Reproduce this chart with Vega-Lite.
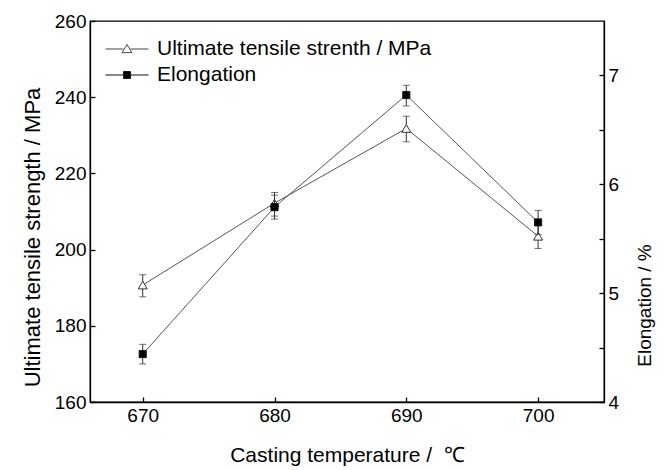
{
  "$schema": "https://vega.github.io/schema/vega-lite/v6.json",
  "width": 514,
  "height": 381,
  "autosize": {"type": "none"},
  "padding": {"left": 90, "top": 21, "right": 62, "bottom": 68},
  "background": "white",
  "config": {
    "font": "Liberation Sans",
    "view": {"stroke": "black", "strokeWidth": 1.3},
    "axis": {
      "grid": false,
      "labelFont": "Liberation Sans",
      "titleFont": "Liberation Sans",
      "labelFontSize": 19,
      "titleFontSize": 21,
      "titleFontWeight": "normal",
      "labelColor": "black",
      "titleColor": "black",
      "domainColor": "black",
      "domainWidth": 1.3,
      "tickColor": "black",
      "tickWidth": 1.3,
      "tickSize": -5,
      "labelPadding": 9
    },
    "legend": {
      "labelFont": "Liberation Sans",
      "labelFontSize": 21,
      "labelColor": "black",
      "labelLimit": 0
    }
  },
  "data": {
    "values": [
      {"temp": 670, "series": "Ultimate tensile strenth / MPa", "value": 190.7, "lo": 187.6, "hi": 193.4},
      {"temp": 680, "series": "Ultimate tensile strenth / MPa", "value": 212.2, "lo": 208.8, "hi": 215.0},
      {"temp": 690, "series": "Ultimate tensile strenth / MPa", "value": 231.8, "lo": 228.3, "hi": 235.0},
      {"temp": 700, "series": "Ultimate tensile strenth / MPa", "value": 203.5, "lo": 200.3, "hi": 206.7},
      {"temp": 670, "series": "Elongation", "value": 4.44, "lo": 4.35, "hi": 4.53},
      {"temp": 680, "series": "Elongation", "value": 5.79, "lo": 5.68, "hi": 5.90},
      {"temp": 690, "series": "Elongation", "value": 6.82, "lo": 6.72, "hi": 6.91},
      {"temp": 700, "series": "Elongation", "value": 5.65, "lo": 5.54, "hi": 5.76}
    ]
  },
  "encoding": {
    "x": {
      "field": "temp",
      "type": "quantitative",
      "scale": {"domain": [666, 705], "nice": false, "zero": false},
      "axis": {"values": [670, 680, 690, 700], "title": "Casting temperature /\u00a0\u00a0℃", "titlePadding": 19, "titleFontSize": 21}
    }
  },
  "layer": [
    {
      "transform": [{"filter": "datum.series === 'Ultimate tensile strenth / MPa'"}],
      "layer": [
        {
          "mark": {"type": "line", "color": "#555", "strokeWidth": 1},
          "encoding": {
            "y": {
              "field": "value",
              "type": "quantitative",
              "scale": {"domain": [160, 260], "nice": false, "zero": false},
              "axis": {
                "orient": "left",
                "title": "Ultimate tensile strength / MPa",
                "titleFontSize": 22,
                "titlePadding": 10,
                "titleY": 216,
                "values": [160, 170, 180, 190, 200, 210, 220, 230, 240, 250, 260],
                "labelExpr": "datum.value % 20 === 0 ? datum.label : ''"
              }
            }
          }
        },
        {
          "mark": {"type": "errorbar", "color": "#333", "thickness": 1, "ticks": {"size": 7, "thickness": 1, "color": "#333"}},
          "encoding": {
            "y": {"field": "lo", "type": "quantitative", "title": "Ultimate tensile strength / MPa"},
            "y2": {"field": "hi"}
          }
        },
        {
          "mark": {"type": "point", "shape": "triangle-up", "filled": true, "stroke": "#333", "strokeWidth": 1, "size": 80, "opacity": 1},
          "encoding": {
            "y": {"field": "value", "type": "quantitative", "title": "Ultimate tensile strength / MPa"},
            "fill": {
              "field": "series",
              "type": "nominal",
              "scale": {"domain": ["Ultimate tensile strenth / MPa"], "range": ["white"]},
              "legend": {
                "title": null,
                "orient": "none",
                "legendX": 15,
                "legendY": 6,
                "symbolType": "M-1,0H-0.17M0.17,0H1M0,-0.21L0.23,0.17H-0.23Z",
                "symbolSize": 1849,
                "symbolStrokeColor": "#444",
                "symbolStrokeWidth": 1,
                "labelOffset": 8
              }
            }
          }
        }
      ]
    },
    {
      "transform": [{"filter": "datum.series === 'Elongation'"}],
      "layer": [
        {
          "mark": {"type": "line", "color": "#555", "strokeWidth": 1},
          "encoding": {
            "y": {
              "field": "value",
              "type": "quantitative",
              "scale": {"domain": [4, 7.5], "nice": false, "zero": false},
              "axis": {
                "orient": "right",
                "title": "Elongation / %",
                "titleFontSize": 19,
                "titleAngle": 270,
                "titleBaseline": "middle",
                "titleX": 40,
                "titleY": 284,
                "format": ".0f",
                "values": [4, 4.5, 5, 5.5, 6, 6.5, 7],
                "labelExpr": "datum.value % 1 === 0 ? datum.label : ''"
              }
            }
          }
        },
        {
          "mark": {"type": "errorbar", "color": "#333", "thickness": 1, "ticks": {"size": 7, "thickness": 1, "color": "#333"}},
          "encoding": {
            "y": {"field": "lo", "type": "quantitative", "title": "Elongation / %"},
            "y2": {"field": "hi"}
          }
        },
        {
          "mark": {"type": "point", "shape": "square", "filled": true, "fill": "black", "strokeWidth": 1, "size": 50, "opacity": 1},
          "encoding": {
            "y": {"field": "value", "type": "quantitative", "title": "Elongation / %"},
            "stroke": {
              "field": "series",
              "type": "nominal",
              "scale": {"domain": ["Elongation"], "range": ["#111"]},
              "legend": {
                "title": null,
                "orient": "none",
                "legendX": 15,
                "legendY": 32,
                "symbolType": "M-1,0H1M-0.16,-0.16H0.16V0.16H-0.16Z",
                "symbolSize": 1849,
                "symbolFillColor": "black",
                "symbolStrokeWidth": 1,
                "labelOffset": 8
              }
            }
          }
        }
      ]
    }
  ],
  "resolve": {"scale": {"y": "independent"}}
}
